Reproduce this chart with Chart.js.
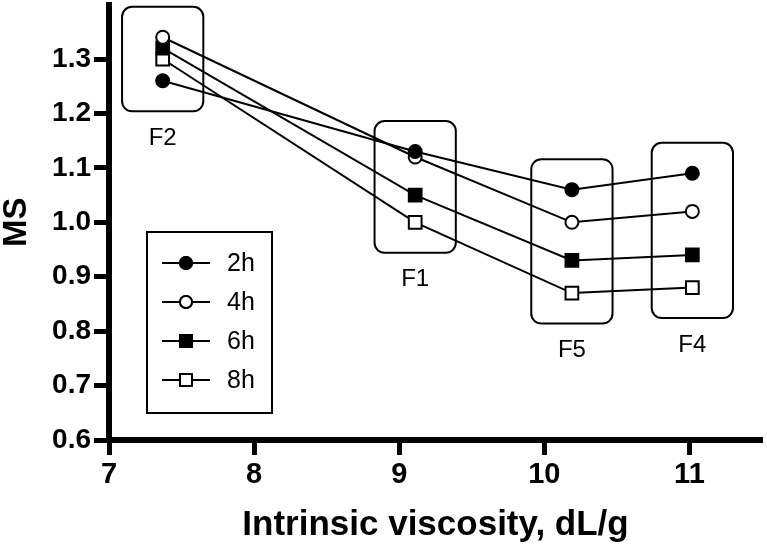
<!DOCTYPE html>
<html>
<head>
<meta charset="utf-8">
<script src="https://cdn.jsdelivr.net/npm/chart.js@4.4.1/dist/chart.umd.min.js"></script>
<style>
	html, body { margin: 0; padding: 0; background: #fff; }
	#wrap { position: relative; width: 767px; height: 546px; }
</style>
</head>
<body>
<div id="wrap"><canvas id="msChart"></canvas></div>
<script>
// chart values
const intrinsicViscosity = [7.37, 9.11, 10.19, 11.02];
const fractionLabels = ['F2', 'F1', 'F5', 'F4'];
const ms2h = [1.26, 1.13, 1.06, 1.09];
const ms4h = [1.34, 1.12, 1.00, 1.02];
const ms6h = [1.32, 1.05, 0.93, 0.94];
const ms8h = [1.30, 1.00, 0.87, 0.88];
const seriesLabels = ['2h', '4h', '6h', '8h'];
const xTickValues = [7, 8, 9, 10, 11];
const yTickValues = [0.6, 0.7, 0.8, 0.9, 1.0, 1.1, 1.2, 1.3];

const FONT = "'Liberation Sans', Arial, sans-serif";

function toPoints (values) {
	return values.map((v, i) => ({ x: intrinsicViscosity[i], y: v }));
}

function makeDataset (label, values, pointStyle, filled) {
	return {
		label: label,
		data: toPoints(values),
		borderColor: '#000',
		borderWidth: 2,
		pointStyle: pointStyle,
		pointRadius: pointStyle === 'rect' ? 9 : 6.5,
		pointBorderWidth: 2,
		pointBorderColor: '#000',
		pointBackgroundColor: filled ? '#000' : '#fff',
		tension: 0,
		clip: false,
	};
}

let allSeries = [ms2h, ms4h, ms6h, ms8h];

// rounded boxes round each fraction, with its name underneath
let fractionBoxes = {
	id: 'fractionBoxes',
	beforeDatasetsDraw (chart) {
		let { ctx, scales: { x, y } } = chart;
		ctx.save();
		ctx.lineWidth = 2;
		ctx.strokeStyle = '#000';
		intrinsicViscosity.forEach((xv, i) => {
			let vals = allSeries.map(s => s[i]);
			let left = x.getPixelForValue(xv - 0.28);
			let right = x.getPixelForValue(xv + 0.28);
			let top = y.getPixelForValue(Math.max(...vals) + 0.056);
			let bottom = y.getPixelForValue(Math.min(...vals) - 0.056);
			ctx.beginPath();
			ctx.roundRect(left, top, right - left, bottom - top, 10);
			ctx.stroke();
			ctx.fillStyle = '#000';
			ctx.font = '24px ' + FONT;
			ctx.textAlign = 'center';
			ctx.textBaseline = 'middle';
			ctx.fillText(fractionLabels[i], x.getPixelForValue(xv), bottom + 27);
		});
		ctx.restore();
	},
};

// legend box with line-through-marker samples
let boxLegend = {
	id: 'boxLegend',
	afterDraw (chart) {
		let { ctx } = chart;
		let bx = 147, by = 232, bw = 125, bh = 181;
		ctx.save();
		ctx.lineWidth = 2;
		ctx.strokeStyle = '#000';
		ctx.strokeRect(bx, by, bw, bh);
		chart.data.datasets.forEach((ds, i) => {
			let cy = by + 31 + i * 39;
			ctx.beginPath();
			ctx.moveTo(bx + 15, cy);
			ctx.lineTo(bx + 63, cy);
			ctx.lineWidth = 2;
			ctx.stroke();
			Chart.helpers.drawPoint(ctx, {
				pointStyle: ds.pointStyle,
				radius: ds.pointStyle === 'rect' ? 8.5 : 6,
				borderWidth: 2,
			}, bx + 39, cy);
			ctx.fillStyle = ds.pointBackgroundColor;
			ctx.strokeStyle = '#000';
			ctx.fill();
			ctx.stroke();
			ctx.fillStyle = '#000';
			ctx.font = '25px ' + FONT;
			ctx.textAlign = 'left';
			ctx.textBaseline = 'middle';
			ctx.fillText(ds.label, bx + 80, cy + 1);
		});
		ctx.restore();
	},
};

let chartEl = document.getElementById('msChart');

new Chart(chartEl, {
	type: 'line',
	data: {
		datasets: [
			makeDataset(seriesLabels[0], ms2h, 'circle', true),
			makeDataset(seriesLabels[1], ms4h, 'circle', false),
			makeDataset(seriesLabels[2], ms6h, 'rect', true),
			makeDataset(seriesLabels[3], ms8h, 'rect', false),
		],
	},
	options: {
		responsive: true,
		maintainAspectRatio: false,
		animation: false,
		// no extra room for markers, the axes go nearly to the canvas edge
		layout: { autoPadding: false, padding: { top: 4.6, right: 5, left: 0, bottom: 0 } },
		plugins: {
			legend: { display: false },
			tooltip: { enabled: false },
		},
		scales: {
			x: {
				type: 'linear',
				min: 7,
				max: 11.5,
				afterBuildTicks (scale) { scale.ticks = xTickValues.map(v => ({ value: v })); },
				afterFit (scale) {
					scale.height = 106;
					scale.paddingLeft = 0;
					scale.paddingRight = 0;
				},
				border: { display: true, width: 6, color: '#000' },
				grid: { drawOnChartArea: false, drawTicks: true, tickLength: 15, tickWidth: 5, tickColor: '#000' },
				ticks: {
					color: '#000',
					padding: 3,
					maxRotation: 0,
					font: { family: FONT, size: 29, weight: 'bold' },
				},
				title: {
					display: true,
					text: 'Intrinsic viscosity, dL/g',
					color: '#000',
					font: { family: FONT, size: 35, weight: 'bold' },
					padding: { top: 4, bottom: 0 },
				},
			},
			y: {
				type: 'linear',
				min: 0.6,
				max: 1.4,
				afterBuildTicks (scale) { scale.ticks = yTickValues.map(v => ({ value: v })); },
				afterFit (scale) {
					scale.width = 109;
					scale.paddingTop = 0;
					scale.paddingBottom = 0;
				},
				border: { display: true, width: 6, color: '#000' },
				grid: { drawOnChartArea: false, drawTicks: true, tickLength: 15, tickWidth: 5, tickColor: '#000' },
				ticks: {
					color: '#000',
					padding: 3,
					font: { family: FONT, size: 28, weight: 'bold' },
					callback: v => v.toFixed(1),
				},
				title: {
					display: true,
					text: 'MS',
					color: '#000',
					font: { family: FONT, size: 33, weight: 'bold' },
					padding: { top: -3, bottom: 0 },
				},
			},
		},
	},
	plugins: [ fractionBoxes, boxLegend ],
});
</script>
</body>
</html>
